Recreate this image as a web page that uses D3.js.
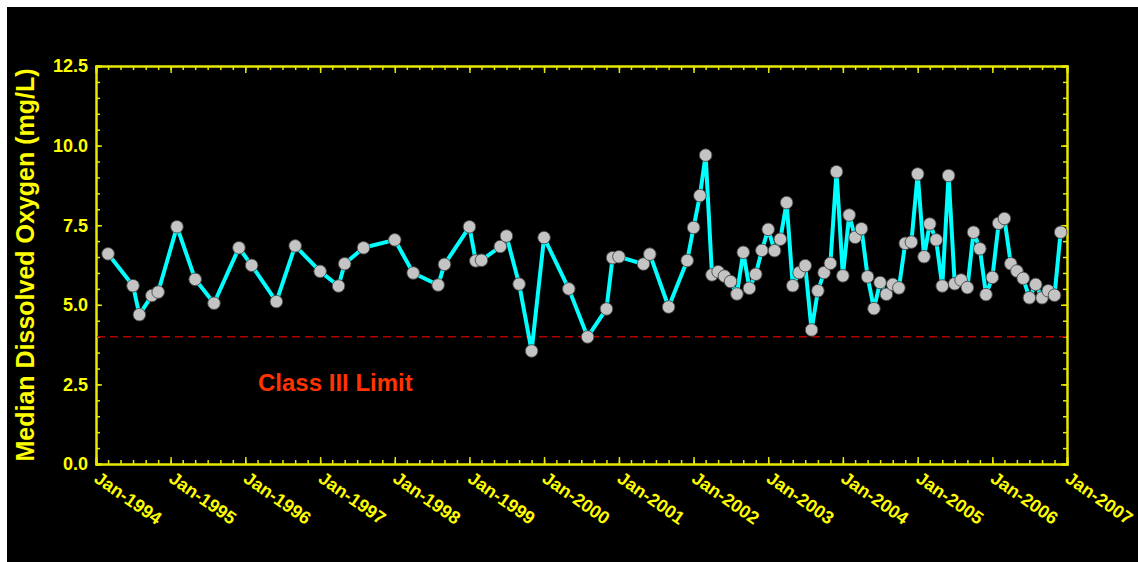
<!DOCTYPE html>
<html>
<head>
<meta charset="utf-8">
<script src="https://cdn.jsdelivr.net/npm/d3@7"></script>
<style>
  html, body { margin: 0; padding: 0; background: #ffffff; }
  svg { display: block; }
</style>
</head>
<body>
<svg id="chart" width="1138" height="562"></svg>
<script>
// ---- Data ----
const months = [
  "1994-03","1994-07","1994-08","1994-10","1994-11","1995-02","1995-05","1995-08","1995-12",
  "1996-02","1996-06","1996-09","1997-01","1997-04","1997-05","1997-08","1998-01","1998-04",
  "1998-08","1998-09","1999-01","1999-02","1999-03","1999-06","1999-07","1999-09","1999-11",
  "2000-01","2000-05","2000-08","2000-11","2000-12","2001-01","2001-05","2001-06","2001-09",
  "2001-12","2002-01","2002-02","2002-03","2002-04","2002-05","2002-06","2002-07","2002-08",
  "2002-09","2002-10","2002-11","2002-12","2003-01","2003-02","2003-03","2003-04","2003-05",
  "2003-06","2003-07","2003-08","2003-09","2003-10","2003-11","2003-12","2004-01","2004-02",
  "2004-03","2004-04","2004-05","2004-06","2004-07","2004-08","2004-09","2004-10","2004-11",
  "2004-12","2005-01","2005-02","2005-03","2005-04","2005-05","2005-06","2005-07","2005-08",
  "2005-09","2005-10","2005-11","2005-12","2006-01","2006-02","2006-03","2006-04","2006-05",
  "2006-06","2006-07","2006-08","2006-09","2006-10","2006-11","2006-12"
];
const medianDO = [
  6.60,5.60,4.69,5.29,5.40,7.45,5.80,5.05,6.79,
  6.24,5.10,6.85,6.05,5.59,6.29,6.79,7.04,6.00,
  5.62,6.27,7.45,6.38,6.40,6.83,7.16,5.65,3.55,
  7.11,5.50,3.99,4.87,6.48,6.51,6.28,6.59,4.93,
  6.39,7.43,8.43,9.70,5.94,6.04,5.90,5.73,5.34,
  6.65,5.52,5.96,6.71,7.37,6.70,7.06,8.21,5.60,
  6.01,6.23,4.21,5.44,6.01,6.30,9.18,5.91,7.82,
  7.12,7.39,5.88,4.88,5.70,5.33,5.64,5.53,6.93,
  6.97,9.11,6.51,7.54,7.04,5.59,9.06,5.66,5.78,
  5.54,7.28,6.76,5.32,5.86,7.56,7.71,6.29,6.06,
  5.83,5.22,5.64,5.22,5.44,5.30,7.28
];
const yTickValues = [0, 2.5, 5.0, 7.5, 10.0, 12.5];
const xTickYears = [1994,1995,1996,1997,1998,1999,2000,2001,2002,2003,2004,2005,2006,2007];
const limitValue = 4.0;
const limitLabel = "Class III Limit";
const yTitle = "Median Dissolved Oxygen (mg/L)";

// ---- Layout ----
const W = 1138, H = 562;
const plot = { left: 96, right: 1067, top: 66, bottom: 464 };
const yellow = "#ffff00";
const axisColor = "#e8e800";
const font = "'Liberation Sans', Arial, Helvetica, sans-serif";

const parse = d3.timeParse("%Y-%m");
const data = months.map((m, i) => ({ date: parse(m), value: medianDO[i] }));

const svg = d3.select("#chart");
svg.append("rect").attr("x", 7).attr("y", 7).attr("width", W - 7).attr("height", H - 7).attr("fill", "#000");

const x = d3.scaleTime()
  .domain([new Date(xTickYears[0], 0, 1), new Date(xTickYears[xTickYears.length - 1], 0, 1)])
  .range([plot.left, plot.right]);
const y = d3.scaleLinear().domain([0, 12.5]).range([plot.bottom, plot.top]);

const yearDates = xTickYears.map(yr => new Date(yr, 0, 1));
const minorX = d3.timeMonth.every(2).range(x.domain()[0], x.domain()[1]);
const minorY = d3.range(0, 12.5001, 0.5);

// ---- Axes (ticks inward on all sides) ----
function styleAxis(g) {
  g.selectAll("path.domain").attr("stroke", axisColor).attr("stroke-width", 2);
  g.selectAll(".tick line").attr("stroke", axisColor).attr("stroke-width", 1.5);
}
// minor ticks
svg.append("g").attr("transform", `translate(0,${plot.bottom})`)
  .call(d3.axisTop(x).tickValues(minorX).tickSize(4).tickFormat("")).call(styleAxis);
svg.append("g").attr("transform", `translate(0,${plot.top})`)
  .call(d3.axisBottom(x).tickValues(minorX).tickSize(4).tickFormat("")).call(styleAxis);
svg.append("g").attr("transform", `translate(${plot.left},0)`)
  .call(d3.axisRight(y).tickValues(minorY).tickSize(4).tickFormat("")).call(styleAxis);
svg.append("g").attr("transform", `translate(${plot.right},0)`)
  .call(d3.axisLeft(y).tickValues(minorY).tickSize(4).tickFormat("")).call(styleAxis);
// major ticks
svg.append("g").attr("transform", `translate(0,${plot.bottom})`)
  .call(d3.axisTop(x).tickValues(yearDates).tickSize(7).tickFormat("")).call(styleAxis);
svg.append("g").attr("transform", `translate(0,${plot.top})`)
  .call(d3.axisBottom(x).tickValues(yearDates).tickSize(7).tickFormat("")).call(styleAxis);
svg.append("g").attr("transform", `translate(${plot.left},0)`)
  .call(d3.axisRight(y).tickValues(yTickValues).tickSize(6).tickFormat("")).call(styleAxis);
svg.append("g").attr("transform", `translate(${plot.right},0)`)
  .call(d3.axisLeft(y).tickValues(yTickValues).tickSize(6).tickFormat("")).call(styleAxis);

// y tick labels
svg.append("g").selectAll("text").data(yTickValues).join("text")
  .attr("x", plot.left - 8)
  .attr("y", d => y(d))
  .attr("dy", "0.36em")
  .attr("text-anchor", "end")
  .attr("fill", yellow)
  .attr("font-family", font)
  .attr("font-weight", "bold")
  .attr("font-size", 18)
  .text(d => d.toFixed(1));

// x tick labels (rotated)
svg.append("g").selectAll("text").data(yearDates).join("text")
  .attr("transform", d => `translate(${x(d) - 3},${plot.bottom + 17}) rotate(35)`)
  .attr("text-anchor", "start")
  .attr("fill", yellow)
  .attr("font-family", font)
  .attr("font-weight", "bold")
  .attr("font-size", 18)
  .text(d => "Jan-" + d.getFullYear());

// y title
svg.append("text")
  .attr("transform", `translate(34,${(plot.top + plot.bottom) / 2}) rotate(-90)`)
  .attr("text-anchor", "middle")
  .attr("fill", yellow)
  .attr("font-family", font)
  .attr("font-weight", "bold")
  .attr("font-size", 25)
  .text(yTitle);

// limit line
svg.append("line")
  .attr("x1", plot.left + 1).attr("x2", plot.right - 1)
  .attr("y1", y(limitValue)).attr("y2", y(limitValue))
  .attr("stroke", "#b00000").attr("stroke-width", 1.5)
  .attr("stroke-dasharray", "8,5");

svg.append("text")
  .attr("x", 258).attr("y", 391)
  .attr("fill", "#ff3300")
  .attr("font-family", font)
  .attr("font-weight", "bold")
  .attr("font-size", 24)
  .text(limitLabel);

// data line
const line = d3.line().x(d => x(d.date)).y(d => y(d.value));
svg.append("path").datum(data)
  .attr("d", line)
  .attr("fill", "none")
  .attr("stroke", "#00ffff")
  .attr("stroke-width", 4)
  .attr("stroke-linejoin", "round");

svg.append("g").selectAll("circle").data(data).join("circle")
  .attr("cx", d => x(d.date))
  .attr("cy", d => y(d.value))
  .attr("r", 6.3)
  .attr("fill", "#c4c4c4")
  .attr("stroke", "#444444")
  .attr("stroke-width", 0.9);
</script>
</body>
</html>
